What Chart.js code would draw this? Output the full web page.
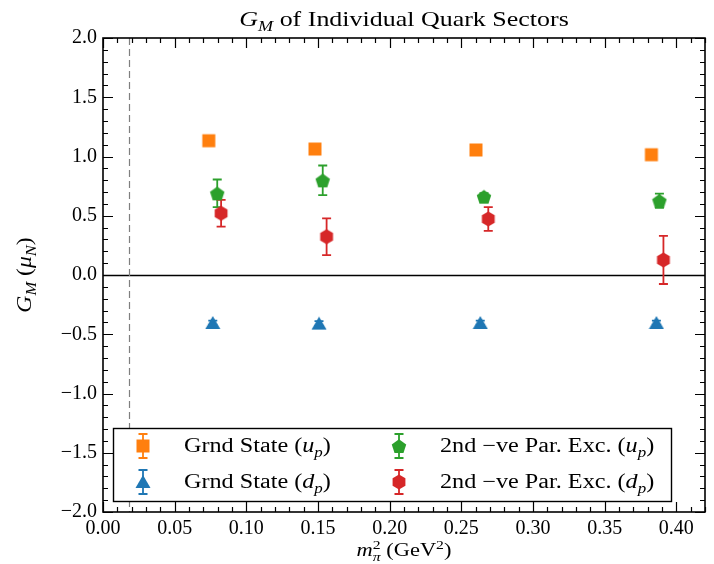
<!DOCTYPE html>
<html lang="en">
<head>
<meta charset="UTF-8">
<title>G_M of Individual Quark Sectors</title>
<script src="https://cdn.jsdelivr.net/npm/chart.js"></script>
<style>
  html, body { margin: 0; padding: 0; background: #fff; }
  #wrap { width: 714px; height: 564px; }
</style>
</head>
<body>
<div id="wrap"><canvas id="grafico" width="714" height="564"></canvas></div>
<script>
// m_pi^2 (GeV^2) of each series, shifted a little so the points don't sit on top of each other
const mpiGrndU = [0.0738, 0.1479, 0.2602, 0.3826];
const mpiGrndD = [0.0766, 0.1507, 0.2632, 0.3861];
const mpiExcU  = [0.0797, 0.1533, 0.2658, 0.3882];
const mpiExcD  = [0.0824, 0.1560, 0.2688, 0.3910];

// G_M (mu_N) and errors
const gmGrndU  = [1.133, 1.063, 1.055, 1.015];
const errGrndU = [0.02, 0.02, 0.02, 0.02];
const gmGrndD  = [-0.405, -0.41, -0.405, -0.405];
const errGrndD = [0.02, 0.02, 0.02, 0.02];
const gmExcU   = [0.689, 0.799, 0.661, 0.627];
const errExcU  = [0.117, 0.125, 0.03, 0.06];
const gmExcD   = [0.521, 0.323, 0.473, 0.127];
const errExcD  = [0.113, 0.155, 0.10, 0.203];

// physical point
const mpiFisico = 0.018;

const xTicks = [0.00, 0.05, 0.10, 0.15, 0.20, 0.25, 0.30, 0.35, 0.40];
const yTicks = [-2.0, -1.5, -1.0, -0.5, 0.0, 0.5, 1.0, 1.5, 2.0];

const FONTE = '"Liberation Serif", "DejaVu Serif", serif';
const ESTICA = 1.18; // Liberation Serif é mais estreita que a fonte do LaTeX
const LARANJA = '#ff7f0e', AZUL = '#1f77b4', VERDE = '#2ca02c', VERMELHO = '#d62728';

// marcadores desenhados num canvas pequeno (Chart.js aceita canvas como pointStyle)
function criaMarcador(forma, cor) {
  const c = document.createElement('canvas');
  c.width = 16; c.height = 16;
  const g = c.getContext('2d');
  g.fillStyle = cor;
  g.beginPath();
  const cx = 8, cy = 8;
  if (forma === 'quadrado') {
    g.rect(1.5, 1.5, 13, 13);
  } else if (forma === 'triangulo') {
    g.moveTo(cx, 1); g.lineTo(15.5, 14); g.lineTo(0.5, 14);
  } else {
    const n = forma === 'pentagono' ? 5 : 6;
    const r = forma === 'pentagono' ? 7.6 : 7.4;
    for (let i = 0; i < n; i++) {
      const a = -Math.PI / 2 + i * 2 * Math.PI / n;
      const px = cx + r * Math.cos(a), py = cy + (forma === 'pentagono' ? 0.8 : 0) + r * Math.sin(a);
      if (i === 0) g.moveTo(px, py); else g.lineTo(px, py);
    }
  }
  g.closePath();
  g.fill();
  return c;
}

const mQuad = criaMarcador('quadrado', LARANJA);
const mTri = criaMarcador('triangulo', AZUL);
const mPent = criaMarcador('pentagono', VERDE);
const mHex = criaMarcador('hexagono', VERMELHO);

function pontos(xs, ys) {
  return xs.map((x, i) => ({ x: x, y: ys[i] }));
}

// texto com itálico, subscrito e sobrescrito (esticado na horizontal)
// 'junto' = o pedaço fica empilhado sobre o anterior (ex.: m_pi^2)
function desenhaTexto(ctx, partes, x, y, tam, alinha) {
  let total = 0, ultimo = 0;
  const med = partes.map(p => {
    const t = (p.sub || p.sup) ? tam * 0.7 : tam;
    ctx.font = (p.it ? 'italic ' : '') + t + 'px ' + FONTE;
    const w = ctx.measureText(p.t).width * ESTICA;
    if (p.junto) {
      total += Math.max(0, w - ultimo);
    } else {
      total += w;
    }
    ultimo = w;
    return { t: t, w: w };
  });
  let cx = alinha === 'center' ? x - total / 2 : (alinha === 'right' ? x - total : x);
  ctx.textAlign = 'left';
  ctx.textBaseline = 'alphabetic';
  ctx.fillStyle = '#000';
  partes.forEach((p, i) => {
    ctx.font = (p.it ? 'italic ' : '') + med[i].t + 'px ' + FONTE;
    const dy = p.sub ? tam * 0.24 : (p.sup ? -tam * 0.38 : 0);
    let px = cx;
    if (p.junto) px = cx - med[i - 1].w;
    ctx.save();
    ctx.translate(px, y + dy);
    ctx.scale(ESTICA, 1);
    ctx.fillText(p.t, 0, 0);
    ctx.restore();
    if (p.junto) cx += Math.max(0, med[i].w - med[i - 1].w);
    else cx += med[i].w;
  });
}

function barraErro(ctx, x, y1, y2, cor) {
  ctx.strokeStyle = cor;
  ctx.lineWidth = 1.8;
  ctx.beginPath();
  ctx.moveTo(x, y1); ctx.lineTo(x, y2);
  ctx.moveTo(x - 4.5, y1); ctx.lineTo(x + 4.5, y1);
  ctx.moveTo(x - 4.5, y2); ctx.lineTo(x + 4.5, y2);
  ctx.stroke();
}

const legendaItens = [
  { m: mQuad, cor: LARANJA, txt: [{ t: 'Grnd State (' }, { t: 'u', it: true }, { t: 'p', it: true, sub: true }, { t: ')' }] },
  { m: mTri, cor: AZUL, txt: [{ t: 'Grnd State (' }, { t: 'd', it: true }, { t: 'p', it: true, sub: true }, { t: ')' }] },
  { m: mPent, cor: VERDE, txt: [{ t: '2nd \u2212ve Par. Exc. (' }, { t: 'u', it: true }, { t: 'p', it: true, sub: true }, { t: ')' }] },
  { m: mHex, cor: VERMELHO, txt: [{ t: '2nd \u2212ve Par. Exc. (' }, { t: 'd', it: true }, { t: 'p', it: true, sub: true }, { t: ')' }] }
];

const pluginFigura = {
  id: 'figura',
  beforeDatasetsDraw(chart) {
    const ctx = chart.ctx, ca = chart.chartArea;
    const sx = chart.scales.x, sy = chart.scales.y;
    ctx.save();
    // linha do zero
    ctx.strokeStyle = '#000';
    ctx.lineWidth = 1.3;
    ctx.beginPath();
    const y0 = Math.round(sy.getPixelForValue(0)) + 0.5;
    ctx.moveTo(ca.left, y0); ctx.lineTo(ca.right, y0);
    ctx.stroke();
    // ponto físico
    ctx.strokeStyle = '#7f7f7f';
    ctx.lineWidth = 1.2;
    ctx.setLineDash([7, 4]);
    const xf = Math.round(sx.getPixelForValue(mpiFisico)) + 0.5;
    ctx.beginPath();
    ctx.moveTo(xf, ca.top); ctx.lineTo(xf, ca.bottom);
    ctx.stroke();
    ctx.setLineDash([]);
    // barras de erro
    chart.data.datasets.forEach(ds => {
      ds.data.forEach((p, i) => {
        const e = ds.erros[i];
        barraErro(ctx, sx.getPixelForValue(p.x), sy.getPixelForValue(p.y + e), sy.getPixelForValue(p.y - e), ds.corErro);
      });
    });
    ctx.restore();
  },
  afterDatasetsDraw(chart) {
    const ctx = chart.ctx, ca = chart.chartArea;
    const sx = chart.scales.x, sy = chart.scales.y;
    ctx.save();
    ctx.strokeStyle = '#000';
    // ticks para dentro nos quatro lados
    ctx.lineWidth = 1.2;
    ctx.beginPath();
    for (let k = 0; k <= 42; k++) {
      const v = k / 100;
      const px = Math.round(sx.getPixelForValue(v)) + 0.5;
      const len = k % 5 === 0 ? 10 : 5;
      ctx.moveTo(px, ca.bottom); ctx.lineTo(px, ca.bottom - len);
      ctx.moveTo(px, ca.top); ctx.lineTo(px, ca.top + len);
    }
    for (let k = -20; k <= 20; k++) {
      const v = k / 10;
      const py = Math.round(sy.getPixelForValue(v)) + 0.5;
      const len = k % 5 === 0 ? 10 : 5;
      ctx.moveTo(ca.left, py); ctx.lineTo(ca.left + len, py);
      ctx.moveTo(ca.right, py); ctx.lineTo(ca.right - len, py);
    }
    ctx.stroke();
    // moldura
    ctx.lineWidth = 1.6;
    ctx.strokeRect(ca.left, ca.top, ca.right - ca.left, ca.bottom - ca.top);
    ctx.restore();
  },
  afterDraw(chart) {
    const ctx = chart.ctx, ca = chart.chartArea;
    ctx.save();
    // título e rótulos dos eixos
    const cx = (ca.left + ca.right) / 2;
    desenhaTexto(ctx, [{ t: 'G', it: true }, { t: 'M', it: true, sub: true }, { t: ' of Individual Quark Sectors' }], cx, 26, 22, 'center');
    desenhaTexto(ctx, [{ t: 'm', it: true }, { t: '\u03c0', it: true, sub: true }, { t: '2', sup: true, junto: true }, { t: ' (GeV' }, { t: '2', sup: true }, { t: ')' }], cx, 556, 19, 'center');
    ctx.save();
    ctx.translate(31, (ca.top + ca.bottom) / 2);
    ctx.rotate(-Math.PI / 2);
    desenhaTexto(ctx, [{ t: 'G', it: true }, { t: 'M', it: true, sub: true }, { t: ' (' }, { t: '\u03bc', it: true }, { t: 'N', it: true, sub: true }, { t: ')' }], 0, 0, 20, 'center');
    ctx.restore();

    // legenda
    const lx = ca.left + 10, ly = ca.bottom - 84, lw = 558, lh = 73;
    ctx.fillStyle = '#fff';
    ctx.fillRect(lx, ly, lw, lh);
    ctx.strokeStyle = '#000';
    ctx.lineWidth = 1.4;
    ctx.strokeRect(lx + 0.5, ly + 0.5, lw, lh);
    legendaItens.forEach((it, i) => {
      const col = Math.floor(i / 2), lin = i % 2;
      const mx = lx + 30 + col * 256;
      const my = ly + 18 + lin * 36;
      barraErro(ctx, mx, my - 12, my + 12, it.cor);
      ctx.drawImage(it.m, mx - 8, my - 8);
      desenhaTexto(ctx, it.txt, mx + 41, my + 6, 20.5, 'left');
    });
    ctx.restore();
  }
};

function formata(v, casas) {
  return v.toFixed(casas).replace('-', '\u2212');
}

const config = {
  type: 'scatter',
  data: {
    datasets: [
      { label: 'Grnd State (u_p)', data: pontos(mpiGrndU, gmGrndU), erros: errGrndU, corErro: LARANJA, pointStyle: mQuad },
      { label: 'Grnd State (d_p)', data: pontos(mpiGrndD, gmGrndD), erros: errGrndD, corErro: AZUL, pointStyle: mTri },
      { label: '2nd -ve Par. Exc. (u_p)', data: pontos(mpiExcU, gmExcU), erros: errExcU, corErro: VERDE, pointStyle: mPent },
      { label: '2nd -ve Par. Exc. (d_p)', data: pontos(mpiExcD, gmExcD), erros: errExcD, corErro: VERMELHO, pointStyle: mHex }
    ]
  },
  options: {
    responsive: false,
    animation: false,
    devicePixelRatio: 1,
    layout: { padding: { left: 0, right: 7, top: 38, bottom: 0 } },
    plugins: { legend: { display: false }, tooltip: { enabled: false } },
    elements: { point: { radius: 8 } },
    scales: {
      x: {
        type: 'linear', min: 0, max: 0.42,
        grid: { display: false, drawTicks: false },
        border: { display: false },
        afterBuildTicks: (ax) => { ax.ticks = xTicks.map(v => ({ value: v })); },
        afterFit: (ax) => { ax.height = 52; },
        ticks: {
          padding: 5, color: '#000', maxRotation: 0,
          font: { family: FONTE, size: 20 },
          callback: (v) => formata(v, 2)
        }
      },
      y: {
        type: 'linear', min: -2, max: 2,
        grid: { display: false, drawTicks: false },
        border: { display: false },
        afterBuildTicks: (ax) => { ax.ticks = yTicks.map(v => ({ value: v })); },
        afterFit: (ax) => { ax.width = 103; },
        ticks: {
          padding: 6, color: '#000',
          font: { family: FONTE, size: 20 },
          callback: (v) => formata(v, 1)
        }
      }
    }
  },
  plugins: [pluginFigura]
};

const meuGrafico = new Chart(document.getElementById('grafico'), config);
</script>
</body>
</html>
